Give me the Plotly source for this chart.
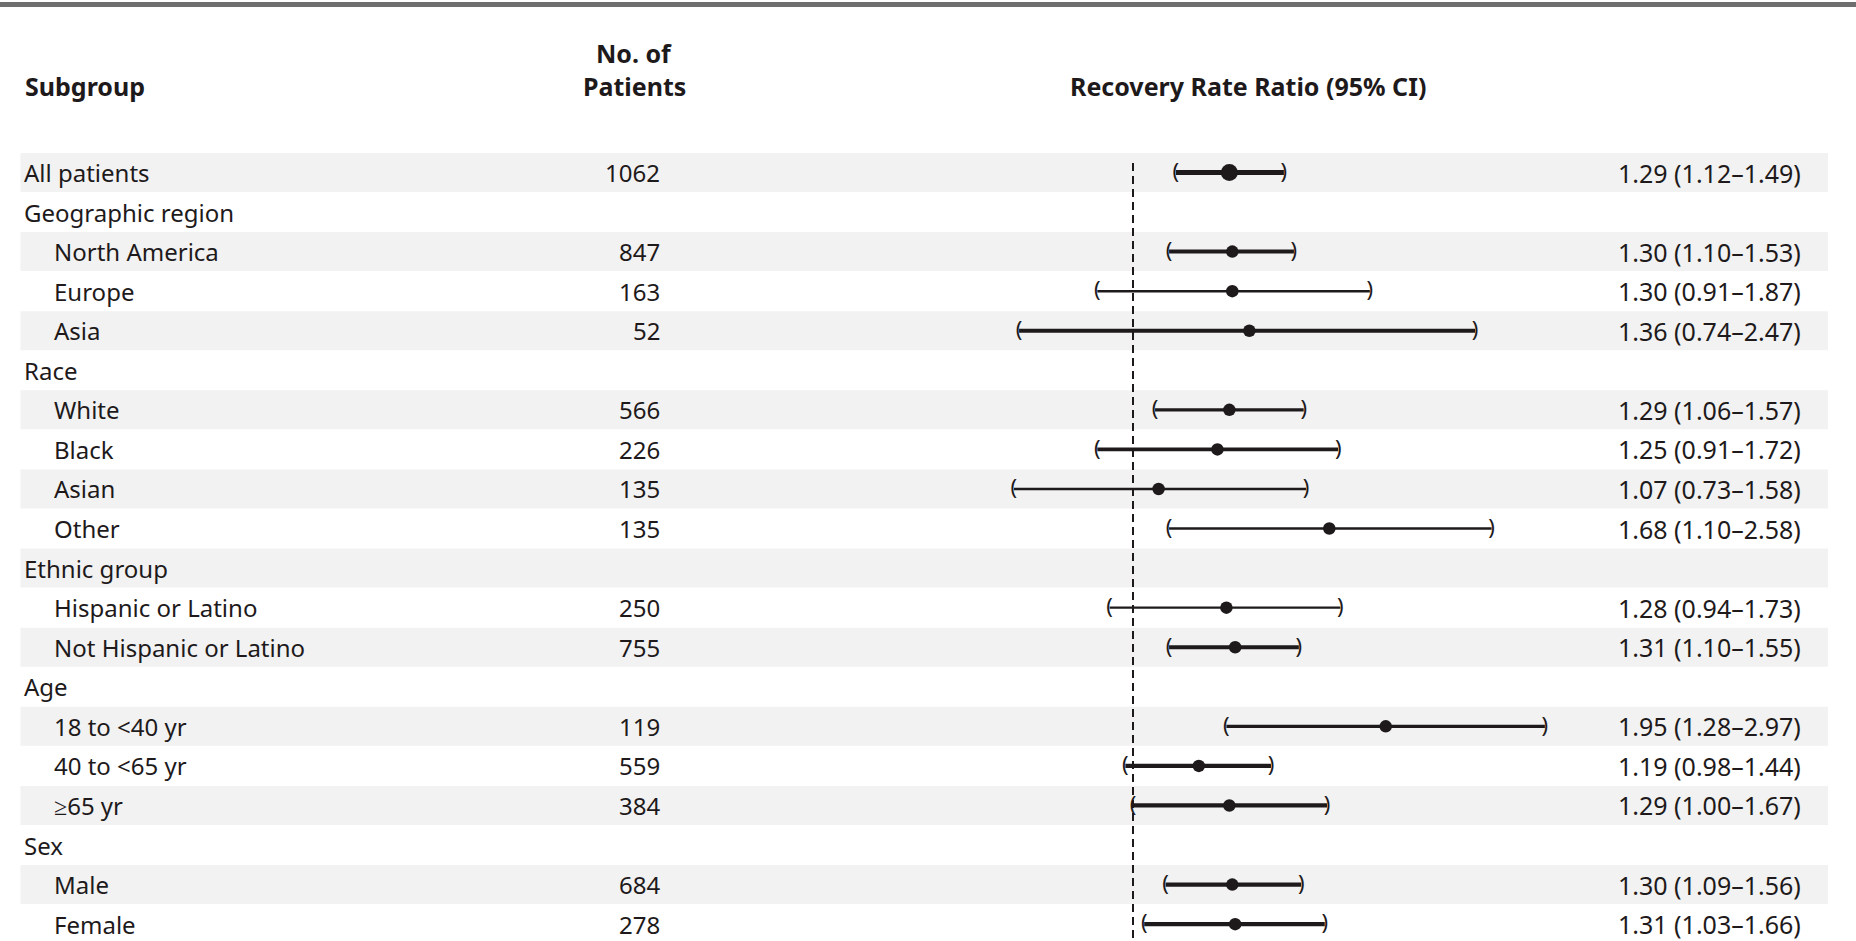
import math
import plotly.graph_objects as go

# ---- data -----------------------------------------------------------------
labels = [
    "All patients", "Geographic region", "North America", "Europe", "Asia",
    "Race", "White", "Black", "Asian", "Other",
    "Ethnic group", "Hispanic or Latino", "Not Hispanic or Latino",
    "Age", "18 to <40 yr", "40 to <65 yr", "\u226565 yr",
    "Sex", "Male", "Female",
]
is_subrow = [False, False, True, True, True,
             False, True, True, True, True,
             False, True, True,
             False, True, True, True,
             False, True, True]
n_patients = [1062, None, 847, 163, 52,
              None, 566, 226, 135, 135,
              None, 250, 755,
              None, 119, 559, 384,
              None, 684, 278]
rate_ratio = [1.29, None, 1.30, 1.30, 1.36,
              None, 1.29, 1.25, 1.07, 1.68,
              None, 1.28, 1.31,
              None, 1.95, 1.19, 1.29,
              None, 1.30, 1.31]
ci_low = [1.12, None, 1.10, 0.91, 0.74,
          None, 1.06, 0.91, 0.73, 1.10,
          None, 0.94, 1.10,
          None, 1.28, 0.98, 1.00,
          None, 1.09, 1.03]
ci_high = [1.49, None, 1.53, 1.87, 2.47,
           None, 1.57, 1.72, 1.58, 2.58,
           None, 1.73, 1.55,
           None, 2.97, 1.44, 1.67,
           None, 1.56, 1.66]

# ---- styling --------------------------------------------------------------
W, H = 1856, 941
ROW0, PITCH = 172.5, 39.56          # pixel centre of first row, row spacing
X_ONE, PX_PER_LN = 1133.0, 378.4    # pixel of ratio 1.0, pixels per ln unit
FONT = "Noto Sans"
INK = "#1e1a1b"
BAND = "#f2f2f2"
ci_width = [5, 0, 4, 2.4, 3.8, 0, 3.2, 3.8, 2.4, 2.4, 0, 2.4, 4, 0, 3.4, 4.2, 4.2, 0, 4.2, 4.2]

x_lo = math.log10(math.exp((0 - X_ONE) / PX_PER_LN))
x_hi = math.log10(math.exp((W - X_ONE) / PX_PER_LN))
y_top = (0 - ROW0) / PITCH
y_bot = (H - ROW0) / PITCH


def px(x):
    return x / W


def py(y):
    return 1 - y / H


fig = go.Figure()
shapes = []
annotations = []

# alternating row shading
for i in range(len(labels)):
    if i % 2 == 0:
        shapes.append(dict(type="rect", xref="paper", yref="y",
                           x0=px(20.5), x1=px(1828), y0=i - 0.493, y1=i + 0.493,
                           fillcolor=BAND, line=dict(width=0), layer="below"))

# top rule
shapes.append(dict(type="rect", xref="paper", yref="paper",
                   x0=0, x1=1, y0=py(7), y1=py(2),
                   fillcolor="#6e6e6e", line=dict(width=0), layer="below"))

# reference line at ratio 1
shapes.append(dict(type="line", xref="x", yref="paper", x0=1, x1=1,
                   y0=py(163), y1=0,
                   line=dict(color=INK, width=2, dash="8px,5px"), layer="below"))

rows = [i for i, v in enumerate(rate_ratio) if v is not None]

# confidence intervals
for i in rows:
    fig.add_trace(go.Scatter(
        x=[ci_low[i], ci_high[i]], y=[i, i], mode="lines",
        line=dict(color=INK, width=ci_width[i]),
        hoverinfo="skip", showlegend=False))

# bracket end caps
cap_font = dict(family=FONT, size=22, color=INK)
fig.add_trace(go.Scatter(
    x=[ci_low[i] for i in rows], y=[i + 0.02 for i in rows], mode="text",
    text=["("] * len(rows), textposition="middle center", textfont=cap_font,
    hoverinfo="skip", showlegend=False))
fig.add_trace(go.Scatter(
    x=[ci_high[i] for i in rows], y=[i + 0.02 for i in rows], mode="text",
    text=[")"] * len(rows), textposition="middle center", textfont=cap_font,
    hoverinfo="skip", showlegend=False))

# point estimates
fig.add_trace(go.Scatter(
    x=[rate_ratio[i] for i in rows], y=rows, mode="markers",
    marker=dict(color=INK, opacity=1, size=[17 if i == 0 else 12.5 for i in rows],
                line=dict(width=0)),
    hovertemplate="%{x:.2f}<extra></extra>", showlegend=False))

# column headers
hdr = dict(family=FONT, size=25, color=INK)
annotations += [
    dict(text="<b>Subgroup</b>", x=px(23), y=py(86), xanchor="left",
         yanchor="middle", font=hdr),
    dict(text="<b>No. of</b>", x=px(634), y=py(53), xanchor="center",
         yanchor="middle", font=hdr),
    dict(text="<b>Patients</b>", x=px(634), y=py(86), xanchor="center",
         yanchor="middle", font=hdr),
    dict(text="<b>Recovery Rate Ratio (95% CI)</b>", x=px(1248), y=py(86),
         xanchor="center", yanchor="middle", font=hdr),
]

body = dict(family=FONT, size=24, color=INK)
ci_font = dict(family=FONT, size=25, color=INK)
for i, lab in enumerate(labels):
    annotations.append(dict(text=lab, x=px(52 if is_subrow[i] else 22), y=i,
                            yref="y", xanchor="left", yanchor="middle", font=body))
    if n_patients[i] is not None:
        annotations.append(dict(text=str(n_patients[i]), x=px(662), y=i,
                                yref="y", xanchor="right", yanchor="middle", font=body))
    if rate_ratio[i] is not None:
        annotations.append(dict(
            text=f"{rate_ratio[i]:.2f} ({ci_low[i]:.2f}\u2013{ci_high[i]:.2f})",
            x=px(1616), y=i, yref="y", xanchor="left", yanchor="middle", font=ci_font))

for a in annotations:
    a.setdefault("xref", "paper")
    a.setdefault("yref", "paper")
    a["showarrow"] = False

fig.update_layout(
    width=W, height=H, margin=dict(l=0, r=0, t=0, b=0),
    paper_bgcolor="white", plot_bgcolor="white",
    shapes=shapes, annotations=annotations,
    xaxis=dict(type="log", range=[x_lo, x_hi], visible=False, fixedrange=True),
    yaxis=dict(range=[y_bot, y_top], visible=False, fixedrange=True),
    showlegend=False,
)

fig.write_html("out.html")
